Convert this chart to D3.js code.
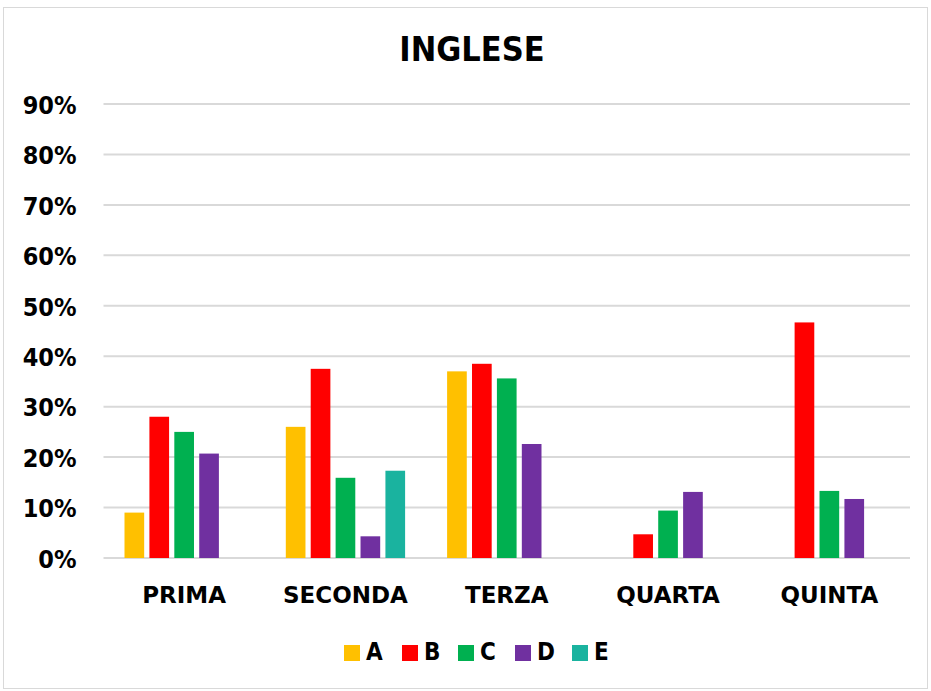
<!DOCTYPE html>
<html><head><meta charset="utf-8">
<script src="https://cdn.jsdelivr.net/npm/d3@7"></script>
<style>
html,body{margin:0;padding:0;background:#fff;}
text{font-family:"DejaVu Sans",sans-serif;font-stretch:condensed;font-weight:bold;fill:#000;}
</style></head>
<body><svg id="chart" width="931" height="691"></svg>
<script>
const categories = ["PRIMA","SECONDA","TERZA","QUARTA","QUINTA"];
const seriesNames = ["A","B","C","D","E"];
const colors = ["#FFC000","#FF0000","#00B050","#7030A0","#1AB39F"];
const valuesA = [9.0, 26.0, 37.0, null, null];
const valuesB = [28.0, 37.5, 38.5, 4.7, 46.7];
const valuesC = [25.0, 15.9, 35.6, 9.4, 13.3];
const valuesD = [20.7, 4.3, 22.6, 13.1, 11.7];
const valuesE = [null, 17.3, null, null, null];
const yTicks = [0,10,20,30,40,50,60,70,80,90];
const title = "INGLESE";

const series = [valuesA,valuesB,valuesC,valuesD,valuesE];
const svg = d3.select("#chart");
svg.append("rect").attr("x",3.5).attr("y",7.5).attr("width",924).attr("height",681)
  .attr("fill","#fff").attr("stroke","#d9d9d9").attr("stroke-width",1);

const pLeft=103.5, pRight=910, pTop=104, pBottom=558;
const x = d3.scaleBand().domain(categories).range([pLeft,pRight]).paddingInner(0).paddingOuter(0);
const bw = x.bandwidth();
const xs = d3.scaleBand().domain(seriesNames).range([21,bw-21]).paddingInner(0.21).paddingOuter(0);
const y = d3.scaleLinear().domain([0,90]).range([pBottom,pTop]);

svg.append("g").selectAll("line").data(yTicks).join("line")
  .attr("x1",pLeft).attr("x2",pRight).attr("y1",d=>y(d)).attr("y2",d=>y(d))
  .attr("stroke","#d9d9d9").attr("stroke-width",2);

const yAxis = svg.append("g").attr("transform",`translate(${pLeft-27},0)`)
  .call(d3.axisLeft(y).tickValues(yTicks).tickFormat(d=>d+"%").tickSize(0).tickPadding(0));
yAxis.select(".domain").remove();
yAxis.attr("font-family",null).attr("font-size",null);
yAxis.selectAll("text").attr("font-size",25).attr("dy","0.35em").attr("transform","translate(0,0.5)");

const xAxis = svg.append("g").attr("transform",`translate(0,${pBottom+37})`)
  .call(d3.axisBottom(x).tickSize(0).tickPadding(0));
xAxis.select(".domain").remove();
xAxis.attr("font-family",null).attr("font-size",null);
xAxis.selectAll("text").attr("font-size",23).style("font-stretch","normal").attr("dy","0.35em");

const g = svg.append("g");
series.forEach((vals,si)=>{
  g.selectAll(null).data(categories.map((c,i)=>({c,v:vals[i]})).filter(d=>d.v!=null)).join("rect")
    .attr("x",d=>x(d.c)+xs(seriesNames[si])).attr("width",xs.bandwidth())
    .attr("y",d=>y(d.v)).attr("height",d=>pBottom-y(d.v))
    .attr("fill",colors[si]);
});

svg.append("text").attr("x",472).attr("y",51).attr("text-anchor","middle")
  .attr("dominant-baseline","middle").attr("font-size",34).text(title);

const leg = svg.append("g");
const legX = [344,402,458,515,572];
seriesNames.forEach((s,i)=>{
  leg.append("rect").attr("x",legX[i]).attr("y",645).attr("width",16).attr("height",16).attr("fill",colors[i]);
  leg.append("text").attr("x",legX[i]+22).attr("y",653).attr("dominant-baseline","middle")
    .attr("font-size",24).text(s);
});
</script></body></html>
